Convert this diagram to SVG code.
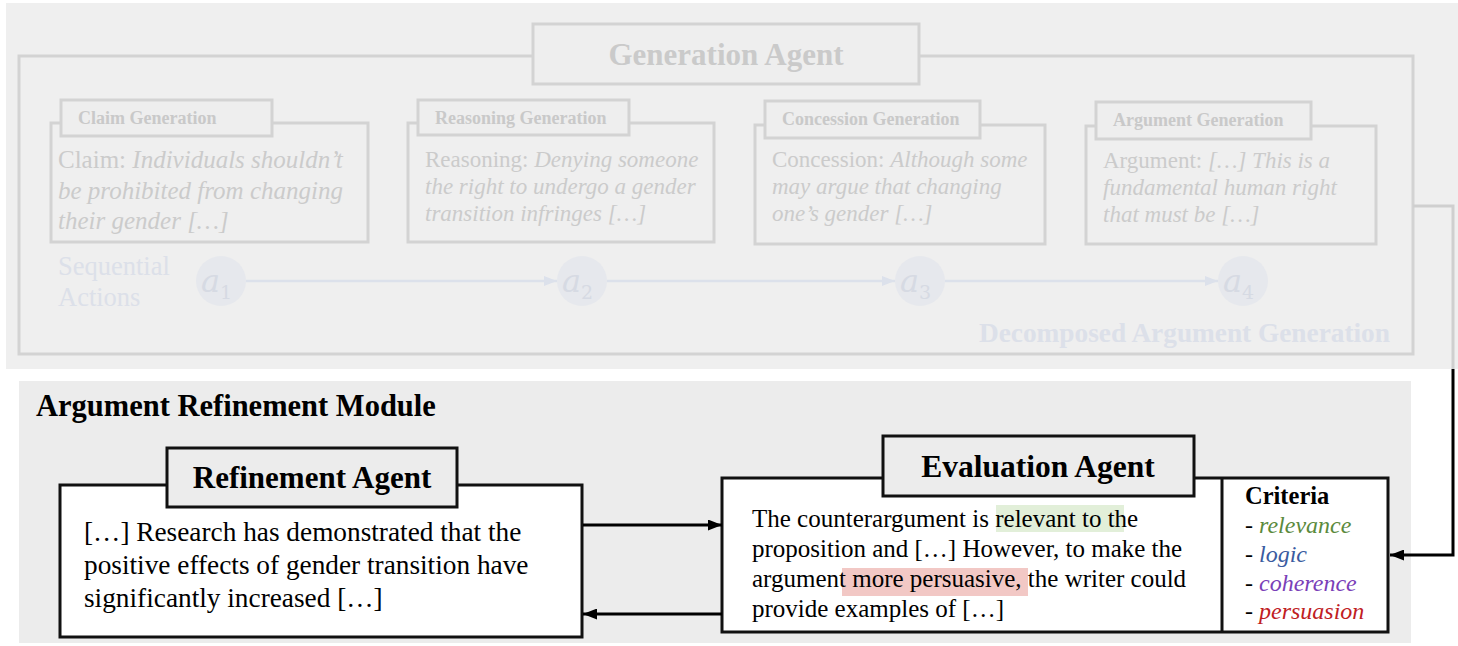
<svg xmlns="http://www.w3.org/2000/svg" width="1458" height="646" viewBox="0 0 1458 646">
<defs>
<style>
.serif{font-family:"Liberation Serif","Times New Roman",serif}
.fbox{fill:none;stroke:#d3d3d3;stroke-width:3}
.ftab{fill:#eeeeee;stroke:#d3d3d3;stroke-width:3}
.ftabtxt{font-family:"Liberation Serif",serif;font-weight:bold;font-size:18px;fill:#c9c9c9}
.fbody{font-family:"Liberation Serif",serif;fill:#cbcbcb}
.it{font-style:italic}
.seq{font-family:"Liberation Serif",serif;fill:#dce0e9}
.circ{fill:#e6e8ed}
.atxt{font-family:"DejaVu Serif","Liberation Serif",serif;font-style:italic;font-size:32px;fill:#d6dae3}
.asub{font-family:"DejaVu Serif","Liberation Serif",serif;font-size:19px;fill:#d6dae3}
.aline{stroke:#dce1eb;stroke-width:2.5;fill:none}
.bbox{fill:#ffffff;stroke:#111111;stroke-width:3}
.btab{fill:#ececec;stroke:#111111;stroke-width:3}
.title{font-family:"Liberation Serif",serif;font-weight:bold;fill:#000}
.btxt{font-family:"Liberation Serif",serif;fill:#000}
.conn{stroke:#000;stroke-width:3;fill:none}
</style>
<marker id="ah" viewBox="0 0 14 11" refX="14" refY="5.5" markerWidth="14" markerHeight="11" markerUnits="userSpaceOnUse" orient="auto">
<path d="M0,0 L14,5.5 L0,11 z" fill="#000"/>
</marker>
<marker id="ahl" viewBox="0 0 13 10" refX="13" refY="5" markerWidth="13" markerHeight="10" markerUnits="userSpaceOnUse" orient="auto">
<path d="M0,0 L13,5 L0,10 z" fill="#dce1eb"/>
</marker>
</defs>

<!-- backgrounds -->
<rect x="6" y="3" width="1452" height="366" fill="#efefef"/>
<rect x="19" y="381" width="1392" height="262" fill="#ececec"/>

<!-- faded generation module -->
<g id="generation-module">
<rect x="19" y="56" width="1394" height="298" class="fbox"/>
<text x="979" y="342" class="seq" font-weight="bold" font-size="27.3px">Decomposed Argument Generation</text>
<text class="seq" font-size="26.5px"><tspan x="58" y="275">Sequential</tspan><tspan x="58" y="306">Actions</tspan></text>
</g>

<g id="generation-agent">
<rect x="533" y="24" width="386" height="60" class="ftab" fill="#ececec"/>
<text x="726" y="65" text-anchor="middle" class="title" font-size="31px" style="fill:#cacaca">Generation Agent</text>
</g>

<g id="claim-generation">
<rect x="51" y="123" width="317" height="119" class="fbox"/>
<rect x="61" y="100" width="211" height="36" class="ftab"/>
<text x="78" y="124" class="ftabtxt">Claim Generation</text>
<text class="fbody" font-size="25px"><tspan x="58" y="168">Claim: </tspan><tspan class="it">Individuals shouldn’t</tspan><tspan class="it" x="58" y="198.5">be prohibited from changing</tspan><tspan class="it" x="58" y="229">their gender […]</tspan></text>
</g>

<g id="reasoning-generation">
<rect x="408" y="123" width="306" height="119" class="fbox"/>
<rect x="418" y="100" width="211" height="35" class="ftab"/>
<text x="435" y="124" class="ftabtxt">Reasoning Generation</text>
<text class="fbody" font-size="23px"><tspan x="425" y="167">Reasoning: </tspan><tspan class="it">Denying someone</tspan><tspan class="it" x="425" y="194">the right to undergo a gender</tspan><tspan class="it" x="425" y="221">transition infringes […]</tspan></text>
</g>

<g id="concession-generation">
<rect x="755" y="125" width="290" height="119" class="fbox"/>
<rect x="765" y="101" width="215" height="37" class="ftab"/>
<text x="782" y="125" class="ftabtxt">Concession Generation</text>
<text class="fbody" font-size="23px"><tspan x="772" y="167">Concession: </tspan><tspan class="it">Although some</tspan><tspan class="it" x="772" y="194">may argue that changing</tspan><tspan class="it" x="772" y="221">one’s gender […]</tspan></text>
</g>

<g id="argument-generation">
<rect x="1086" y="126" width="290" height="118" class="fbox"/>
<rect x="1096" y="102" width="215" height="37" class="ftab"/>
<text x="1113" y="126" class="ftabtxt">Argument Generation</text>
<text class="fbody" font-size="23px"><tspan x="1103" y="168">Argument: </tspan><tspan class="it">[…] This is a</tspan><tspan class="it" x="1103" y="195">fundamental human right</tspan><tspan class="it" x="1103" y="222">that must be […]</tspan></text>
</g>

<g id="a1"><circle cx="221" cy="281" r="25" class="circ"/><text x="201" y="292" class="atxt">a</text><text x="220" y="299" class="asub">1</text></g>
<g id="a2"><circle cx="582" cy="281" r="25" class="circ"/><text x="562" y="292" class="atxt">a</text><text x="581" y="299" class="asub">2</text></g>
<g id="a3"><circle cx="920" cy="281" r="25" class="circ"/><text x="900" y="292" class="atxt">a</text><text x="919" y="299" class="asub">3</text></g>
<g id="a4"><circle cx="1243" cy="281" r="25" class="circ"/><text x="1223" y="292" class="atxt">a</text><text x="1242" y="299" class="asub">4</text></g>

<!-- bottom module -->
<g id="refinement-module">
<text x="36" y="416" class="title" font-size="30.5px">Argument Refinement Module</text>
</g>

<g id="refinement-agent">
<rect x="60" y="485" width="522" height="152" class="bbox"/>
<rect x="167" y="448" width="290" height="59" class="btab"/>
<text x="312" y="488" text-anchor="middle" class="title" font-size="31px">Refinement Agent</text>
<text class="btxt" font-size="27.3px"><tspan x="84" y="541">[…] Research has demonstrated that the</tspan><tspan x="84" y="574">positive effects of gender transition have</tspan><tspan x="84" y="607">significantly increased […]</tspan></text>
</g>

<g id="evaluation-agent">
<rect x="722" y="478" width="666" height="154" class="bbox"/>
<line x1="1222" y1="478" x2="1222" y2="632" stroke="#111" stroke-width="3"/>
<rect x="883" y="436" width="311" height="60" class="btab"/>
<text x="1038" y="477" text-anchor="middle" class="title" font-size="31.5px">Evaluation Agent</text>
<rect x="996" y="505" width="128" height="27" fill="#e2efd9"/>
<rect x="842" y="568" width="186" height="28" fill="#f2c8c5"/>
<text class="btxt" font-size="25px"><tspan x="752" y="527">The counterargument is relevant to the</tspan><tspan x="752" y="557">proposition and […] However, to make the</tspan><tspan x="752" y="587">argument more persuasive, the writer could</tspan><tspan x="752" y="617">provide examples of […]</tspan></text>
</g>

<g id="criteria">
<text x="1245" y="504" class="title" font-size="24.5px">Criteria</text>
<text class="btxt" font-size="24px"><tspan x="1245" y="533">- </tspan><tspan font-style="italic" fill="#5b8a3c">relevance</tspan><tspan x="1245" y="562">- </tspan><tspan font-style="italic" fill="#3a5ba0">logic</tspan><tspan x="1245" y="591">- </tspan><tspan font-style="italic" fill="#7a3fb8">coherence</tspan><tspan x="1245" y="619">- </tspan><tspan font-style="italic" fill="#c0201f">persuasion</tspan></text>
</g>

<!-- connectors -->
<g id="connectors">
<line x1="246" y1="281" x2="557" y2="281" class="aline" marker-end="url(#ahl)"/>
<line x1="607" y1="281" x2="895" y2="281" class="aline" marker-end="url(#ahl)"/>
<line x1="945" y1="281" x2="1218" y2="281" class="aline" marker-end="url(#ahl)"/>
<path d="M1413,206 H1453 V369" stroke="#cfcfcf" stroke-width="3" fill="none"/>
<path d="M1453,369 V555 H1390" class="conn" marker-end="url(#ah)"/>
<line x1="583" y1="525" x2="722" y2="525" class="conn" marker-end="url(#ah)"/>
<line x1="722" y1="614" x2="583" y2="614" class="conn" marker-end="url(#ah)"/>
</g>
</svg>
